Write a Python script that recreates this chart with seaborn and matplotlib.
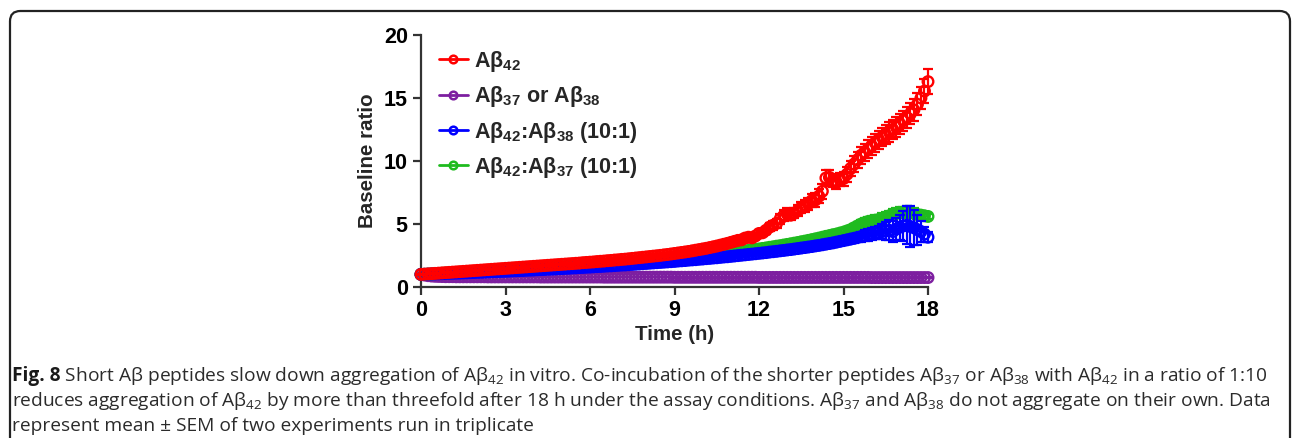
import numpy as np
import pandas as pd
import matplotlib
matplotlib.use("Agg")
import matplotlib.pyplot as plt
from matplotlib.lines import Line2D
from matplotlib.patches import FancyBboxPatch
import seaborn as sns

# ---------------- data ----------------
time_h = np.linspace(0, 18, 145)   # sampling grid, every 7.5 min

ab42 = [
    1.00, 1.02, 1.04, 1.06, 1.08, 1.10, 1.12, 1.14,
    1.16, 1.18, 1.20, 1.22, 1.24, 1.26, 1.28, 1.30,
    1.32, 1.34, 1.36, 1.38, 1.40, 1.42, 1.44, 1.46,
    1.48, 1.50, 1.52, 1.54, 1.56, 1.58, 1.60, 1.62,
    1.64, 1.66, 1.68, 1.70, 1.72, 1.74, 1.76, 1.78,
    1.80, 1.82, 1.84, 1.86, 1.88, 1.90, 1.93, 1.95,
    1.97, 1.99, 2.02, 2.04, 2.06, 2.09, 2.11, 2.14,
    2.16, 2.19, 2.21, 2.24, 2.27, 2.30, 2.33, 2.36,
    2.39, 2.42, 2.45, 2.48, 2.51, 2.55, 2.58, 2.62,
    2.66, 2.70, 2.74, 2.78, 2.82, 2.87, 2.92, 2.97,
    3.02, 3.07, 3.13, 3.19, 3.25, 3.32, 3.39, 3.46,
    3.54, 3.62, 3.70, 3.74, 3.88, 3.95, 3.90, 4.05,
    4.25, 4.30, 4.50, 4.75, 4.90, 5.05, 5.40, 5.65,
    5.80, 5.70, 5.85, 6.05, 6.30, 6.45, 6.60, 6.85,
    6.90, 7.20, 7.60, 8.65, 8.70, 8.45, 8.30, 8.55,
    8.60, 8.95, 9.40, 9.75, 10.10, 10.45, 10.70, 10.95,
    11.20, 11.45, 11.70, 11.90, 12.10, 12.30, 12.50, 12.70,
    12.95, 13.20, 13.45, 13.75, 14.05, 14.50, 15.00, 15.55,
    16.30,
]
ab42_sem = [
    0.02, 0.02, 0.02, 0.02, 0.02, 0.02, 0.02, 0.02,
    0.03, 0.03, 0.03, 0.03, 0.03, 0.03, 0.03, 0.03,
    0.03, 0.03, 0.03, 0.03, 0.04, 0.04, 0.04, 0.04,
    0.04, 0.04, 0.04, 0.04, 0.04, 0.04, 0.05, 0.05,
    0.05, 0.05, 0.05, 0.05, 0.05, 0.05, 0.05, 0.05,
    0.06, 0.06, 0.06, 0.06, 0.06, 0.06, 0.06, 0.06,
    0.07, 0.07, 0.07, 0.07, 0.07, 0.07, 0.08, 0.08,
    0.08, 0.08, 0.08, 0.09, 0.09, 0.09, 0.09, 0.10,
    0.10, 0.10, 0.10, 0.11, 0.11, 0.11, 0.12, 0.12,
    0.12, 0.13, 0.13, 0.13, 0.14, 0.14, 0.15, 0.15,
    0.16, 0.16, 0.17, 0.17, 0.18, 0.18, 0.19, 0.20,
    0.20, 0.21, 0.22, 0.22, 0.23, 0.24, 0.25, 0.26,
    0.27, 0.28, 0.30, 0.32, 0.34, 0.36, 0.40, 0.45,
    0.45, 0.42, 0.40, 0.42, 0.45, 0.48, 0.50, 0.52,
    0.55, 0.55, 0.58, 0.65, 0.60, 0.55, 0.50, 0.52,
    0.55, 0.58, 0.60, 0.62, 0.64, 0.66, 0.68, 0.70,
    0.70, 0.72, 0.72, 0.74, 0.74, 0.76, 0.76, 0.78,
    0.78, 0.80, 0.80, 0.82, 0.84, 0.86, 0.88, 0.92,
    1.00,
]

ab37_or_38 = [
    1.00, 0.95, 0.90, 0.87, 0.85, 0.84, 0.83, 0.82,
    0.82, 0.82, 0.81, 0.81, 0.81, 0.81, 0.81, 0.81,
    0.81, 0.81, 0.81, 0.80, 0.80, 0.80, 0.80, 0.80,
    0.80, 0.80, 0.80, 0.80, 0.80, 0.80, 0.80, 0.80,
    0.80, 0.80, 0.79, 0.79, 0.79, 0.79, 0.79, 0.79,
    0.79, 0.79, 0.79, 0.79, 0.79, 0.79, 0.79, 0.79,
    0.79, 0.79, 0.79, 0.79, 0.78, 0.78, 0.78, 0.78,
    0.78, 0.78, 0.78, 0.78, 0.78, 0.78, 0.78, 0.78,
    0.78, 0.78, 0.78, 0.78, 0.78, 0.78, 0.78, 0.78,
    0.77, 0.77, 0.77, 0.77, 0.77, 0.77, 0.77, 0.77,
    0.77, 0.77, 0.77, 0.77, 0.77, 0.77, 0.77, 0.77,
    0.77, 0.77, 0.77, 0.77, 0.77, 0.77, 0.77, 0.77,
    0.76, 0.76, 0.76, 0.76, 0.76, 0.76, 0.76, 0.76,
    0.76, 0.76, 0.76, 0.76, 0.76, 0.76, 0.76, 0.76,
    0.76, 0.76, 0.76, 0.76, 0.76, 0.76, 0.76, 0.76,
    0.76, 0.76, 0.76, 0.76, 0.76, 0.76, 0.76, 0.76,
    0.75, 0.75, 0.75, 0.75, 0.75, 0.75, 0.75, 0.75,
    0.75, 0.75, 0.75, 0.75, 0.75, 0.75, 0.75, 0.75,
    0.75,
]
ab37_or_38_sem = [0.02] * 145

ab42_ab38 = [
    1.00, 1.01, 1.02, 1.03, 1.04, 1.05, 1.06, 1.07,
    1.08, 1.09, 1.10, 1.11, 1.12, 1.13, 1.14, 1.15,
    1.16, 1.17, 1.18, 1.20, 1.21, 1.22, 1.23, 1.24,
    1.25, 1.26, 1.28, 1.29, 1.30, 1.31, 1.33, 1.34,
    1.35, 1.37, 1.38, 1.39, 1.41, 1.42, 1.43, 1.45,
    1.46, 1.48, 1.49, 1.51, 1.52, 1.54, 1.55, 1.57,
    1.58, 1.60, 1.62, 1.63, 1.65, 1.67, 1.68, 1.70,
    1.72, 1.74, 1.75, 1.77, 1.79, 1.81, 1.83, 1.85,
    1.87, 1.89, 1.91, 1.93, 1.95, 1.97, 1.99, 2.01,
    2.03, 2.06, 2.08, 2.10, 2.13, 2.15, 2.17, 2.20,
    2.22, 2.25, 2.27, 2.30, 2.32, 2.35, 2.38, 2.40,
    2.43, 2.46, 2.49, 2.52, 2.55, 2.58, 2.61, 2.64,
    2.67, 2.70, 2.73, 2.77, 2.80, 2.83, 2.87, 2.90,
    2.94, 2.97, 3.01, 3.05, 3.09, 3.13, 3.17, 3.21,
    3.26, 3.30, 3.35, 3.40, 3.45, 3.50, 3.56, 3.62,
    3.68, 3.74, 3.80, 3.86, 3.93, 4.00, 4.07, 4.14,
    4.20, 4.27, 4.33, 4.40, 4.45, 4.50, 4.40, 4.60,
    4.75, 4.85, 4.90, 4.80, 4.70, 4.55, 4.40, 4.20,
    3.95,
]
ab42_ab38_sem = [
    0.02, 0.02, 0.02, 0.02, 0.02, 0.02, 0.02, 0.02,
    0.02, 0.02, 0.02, 0.02, 0.02, 0.02, 0.02, 0.02,
    0.03, 0.03, 0.03, 0.03, 0.03, 0.03, 0.03, 0.03,
    0.03, 0.03, 0.03, 0.03, 0.03, 0.03, 0.03, 0.03,
    0.04, 0.04, 0.04, 0.04, 0.04, 0.04, 0.04, 0.04,
    0.04, 0.04, 0.04, 0.04, 0.04, 0.04, 0.04, 0.04,
    0.05, 0.05, 0.05, 0.05, 0.05, 0.05, 0.05, 0.05,
    0.05, 0.05, 0.05, 0.05, 0.06, 0.06, 0.06, 0.06,
    0.06, 0.06, 0.06, 0.06, 0.07, 0.07, 0.07, 0.07,
    0.07, 0.07, 0.08, 0.08, 0.08, 0.08, 0.08, 0.09,
    0.09, 0.09, 0.09, 0.10, 0.10, 0.10, 0.10, 0.11,
    0.11, 0.11, 0.12, 0.12, 0.12, 0.13, 0.13, 0.13,
    0.14, 0.14, 0.15, 0.15, 0.16, 0.16, 0.17, 0.17,
    0.18, 0.18, 0.19, 0.19, 0.20, 0.20, 0.21, 0.22,
    0.22, 0.23, 0.24, 0.25, 0.26, 0.27, 0.28, 0.29,
    0.30, 0.32, 0.34, 0.36, 0.38, 0.40, 0.42, 0.45,
    0.48, 0.50, 0.55, 0.60, 0.70, 0.80, 0.85, 0.90,
    1.00, 1.20, 1.50, 1.60, 1.40, 1.20, 0.80, 0.60,
    0.40,
]

ab42_ab37 = [
    1.00, 1.01, 1.03, 1.04, 1.06, 1.07, 1.09, 1.10,
    1.12, 1.13, 1.15, 1.16, 1.18, 1.19, 1.21, 1.22,
    1.24, 1.25, 1.27, 1.28, 1.30, 1.31, 1.33, 1.34,
    1.36, 1.37, 1.39, 1.40, 1.42, 1.43, 1.45, 1.46,
    1.48, 1.49, 1.51, 1.52, 1.54, 1.55, 1.57, 1.58,
    1.60, 1.62, 1.63, 1.65, 1.66, 1.68, 1.70, 1.71,
    1.73, 1.75, 1.76, 1.78, 1.80, 1.82, 1.84, 1.86,
    1.88, 1.90, 1.92, 1.94, 1.96, 1.98, 2.00, 2.02,
    2.04, 2.06, 2.08, 2.11, 2.13, 2.15, 2.18, 2.20,
    2.23, 2.25, 2.28, 2.31, 2.34, 2.37, 2.40, 2.43,
    2.46, 2.49, 2.52, 2.55, 2.58, 2.62, 2.65, 2.68,
    2.72, 2.75, 2.79, 2.83, 2.86, 2.90, 2.94, 2.98,
    3.02, 3.06, 3.10, 3.15, 3.19, 3.24, 3.28, 3.33,
    3.38, 3.43, 3.48, 3.53, 3.59, 3.64, 3.70, 3.76,
    3.82, 3.88, 3.95, 4.02, 4.08, 4.15, 4.20, 4.28,
    4.35, 4.45, 4.55, 4.70, 4.85, 5.00, 5.10, 5.20,
    5.25, 5.30, 5.35, 5.45, 5.55, 5.65, 5.75, 5.85,
    5.90, 5.95, 6.00, 5.90, 5.85, 5.75, 5.70, 5.65,
    5.60,
]
ab42_ab37_sem = [
    0.02, 0.02, 0.02, 0.02, 0.02, 0.02, 0.02, 0.02,
    0.02, 0.02, 0.02, 0.02, 0.02, 0.02, 0.02, 0.02,
    0.03, 0.03, 0.03, 0.03, 0.03, 0.03, 0.03, 0.03,
    0.03, 0.03, 0.03, 0.03, 0.03, 0.03, 0.03, 0.03,
    0.04, 0.04, 0.04, 0.04, 0.04, 0.04, 0.04, 0.04,
    0.04, 0.04, 0.04, 0.04, 0.04, 0.04, 0.04, 0.04,
    0.05, 0.05, 0.05, 0.05, 0.05, 0.05, 0.05, 0.05,
    0.05, 0.05, 0.05, 0.05, 0.06, 0.06, 0.06, 0.06,
    0.06, 0.06, 0.06, 0.06, 0.07, 0.07, 0.07, 0.07,
    0.07, 0.07, 0.08, 0.08, 0.08, 0.08, 0.08, 0.09,
    0.09, 0.09, 0.09, 0.10, 0.10, 0.10, 0.10, 0.11,
    0.11, 0.11, 0.12, 0.12, 0.12, 0.13, 0.13, 0.13,
    0.14, 0.14, 0.15, 0.15, 0.16, 0.16, 0.17, 0.17,
    0.18, 0.18, 0.19, 0.19, 0.20, 0.20, 0.21, 0.22,
    0.22, 0.23, 0.24, 0.25, 0.26, 0.27, 0.28, 0.29,
    0.30, 0.31, 0.32, 0.33, 0.34, 0.35, 0.36, 0.37,
    0.38, 0.38, 0.39, 0.39, 0.40, 0.40, 0.41, 0.41,
    0.42, 0.42, 0.43, 0.43, 0.40, 0.35, 0.30, 0.25,
    0.20,
]

series_labels = ["Aβ$_{42}$", "Aβ$_{37}$ or Aβ$_{38}$",
                 "Aβ$_{42}$:Aβ$_{38}$ (10:1)", "Aβ$_{42}$:Aβ$_{37}$ (10:1)"]
series_colors = ["#ff0000", "#7d1fa0", "#0000ff", "#1fbb1f"]
x_ticks = [0, 3, 6, 9, 12, 15, 18]
y_ticks = [0, 5, 10, 15, 20]

caption_lines = [
    " Short Aβ peptides slow down aggregation of Aβ$_{42}$ in vitro. Co-incubation of the "
    "shorter peptides Aβ$_{37}$ or Aβ$_{38}$ with Aβ$_{42}$ in a ratio of 1:10",
    "reduces aggregation of Aβ$_{42}$ by more than threefold after 18 h under the assay "
    "conditions. Aβ$_{37}$ and Aβ$_{38}$ do not aggregate on their own. Data",
    "represent mean ± SEM of two experiments run in triplicate",
]

# ---------------- style ----------------
sns.set_theme(style="ticks")
plt.rcParams["font.family"] = ["Liberation Sans", "DejaVu Sans"]
plt.rcParams["mathtext.default"] = "regular"

W, H = 1293, 438
fig = plt.figure(figsize=(W / 100, H / 100), dpi=100)
fig.patch.set_facecolor("white")

# rounded frame around figure + caption
frame = FancyBboxPatch((10 / W, -20 / H), 1280 / W, 447 / H,
                       boxstyle="round,pad=0,rounding_size=0.008",
                       transform=fig.transFigure, fill=False,
                       edgecolor="#222222", linewidth=1.6, mutation_aspect=W / H)
fig.patches.append(frame)

ax_left, ax_right = 421 / W, 928 / W
ax_bottom, ax_top = 1 - 287 / H, 1 - 35 / H
ax = fig.add_axes([ax_left, ax_bottom, ax_right - ax_left, ax_top - ax_bottom])

long = pd.DataFrame({
    "time": np.tile(time_h, 4),
    "ratio": np.concatenate([ab42, ab37_or_38, ab42_ab38, ab42_ab37]),
    "sem": np.concatenate([ab42_sem, ab37_or_38_sem, ab42_ab38_sem, ab42_ab37_sem]),
    "series": np.repeat(series_labels, len(time_h)),
})

draw_order = [1, 3, 2, 0]   # purple, green, blue, red on top
for k, idx in enumerate(draw_order):
    lab = series_labels[idx]
    col = series_colors[idx]
    d = long[long["series"] == lab]
    ax.errorbar(d["time"], d["ratio"], yerr=d["sem"], fmt="none",
                ecolor=col, elinewidth=1.6, capsize=3.6, capthick=1.6,
                zorder=3 + 2 * k, clip_on=False)
    sns.scatterplot(data=d, x="time", y="ratio", ax=ax, marker="o",
                    s=58, facecolor="none", edgecolor=col, linewidth=1.7,
                    zorder=4 + 2 * k, clip_on=False, legend=False)

ax.set_xlim(0, 18)
ax.set_ylim(0, 20)
ax.set_xticks(x_ticks)
ax.set_yticks(y_ticks)
ax.set_xticklabels([str(t) for t in x_ticks], fontsize=15.5, fontweight="bold")
ax.set_yticklabels([str(t) for t in y_ticks], fontsize=15.5, fontweight="bold")
ax.set_xlabel("Time (h)", fontsize=14.8, fontweight="bold", labelpad=3)
ax.set_ylabel("Baseline ratio", fontsize=14.8, fontweight="bold", labelpad=5)
for side in ["top", "right"]:
    ax.spines[side].set_visible(False)
for side in ["left", "bottom"]:
    ax.spines[side].set_color("#333333")
    ax.spines[side].set_linewidth(1.6)
ax.tick_params(axis="both", direction="out", length=5.5, width=1.6,
               color="#333333", labelcolor="black", pad=4)
ax.set_facecolor("white")
ax.grid(False)

handles = [Line2D([0], [0], color=series_colors[i], lw=2, marker="o",
                  markersize=5.5, markerfacecolor="none", markeredgewidth=1.8)
           for i in range(4)]
leg = ax.legend(handles, series_labels, loc="upper left",
                bbox_to_anchor=(0.035, 0.945), frameon=False,
                prop={"family": "Liberation Sans", "weight": "bold", "size": 15.5},
                handlelength=1.35, handletextpad=0.3, labelspacing=0.48,
                borderaxespad=0, borderpad=0)

# ---------------- caption ----------------
cap_font = ["Open Sans", "DejaVu Sans"]
cap_size = 13.8
cap_color = "#2b2b2b"
y_lines = [1 - 381 / H, 1 - 406 / H, 1 - 431 / H]
t_fig = fig.text(12 / W, y_lines[0], "Fig. 8", family=cap_font, weight="bold",
                 size=cap_size, color="#1a1a1a", va="baseline", ha="left")
renderer = fig.canvas.get_renderer()
bb = t_fig.get_window_extent(renderer)
fig.text(bb.x1 / W, y_lines[0], caption_lines[0], family=cap_font,
         size=cap_size, color=cap_color, va="baseline", ha="left")
for line, yy in zip(caption_lines[1:], y_lines[1:]):
    fig.text(12 / W, yy, line, family=cap_font, size=cap_size,
             color=cap_color, va="baseline", ha="left")

fig.savefig("out.png", dpi=100, facecolor="white")
